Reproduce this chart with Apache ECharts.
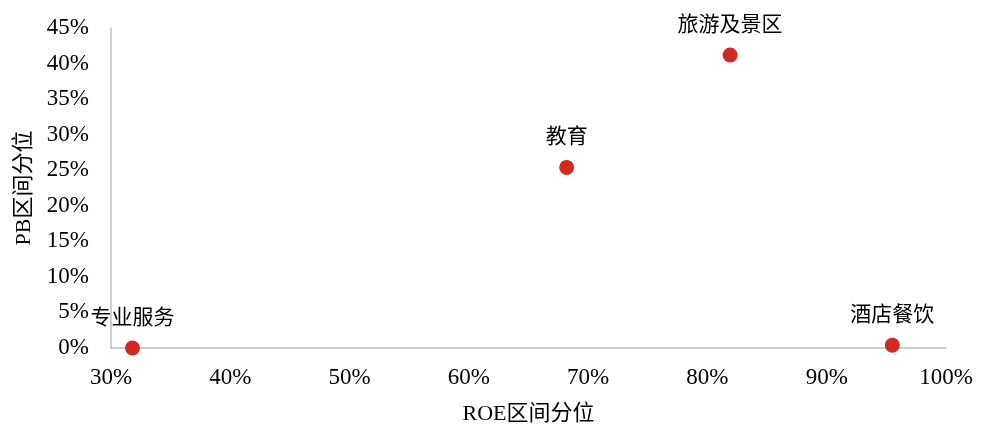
<!DOCTYPE html>
<html>
<head>
<meta charset="utf-8">
<script src="https://cdn.jsdelivr.net/npm/echarts@6/dist/echarts.min.js"></script>
<style>html,body{margin:0;padding:0;background:#fff;}#c{width:984px;height:430px;}</style>
</head>
<body>
<div id="c"></div>
<script>
var names = ['专业服务', '教育', '旅游及景区', '酒店餐饮'];
var roePct = [31.8, 68.2, 81.9, 95.5];
var pbPct = [0.0, 25.4, 41.2, 0.4];
var xTicks = [30, 40, 50, 60, 70, 80, 90, 100];
var yTicks = [0, 5, 10, 15, 20, 25, 30, 35, 40, 45];

var fontFam = "'Liberation Serif', 'Times New Roman', 'Noto Sans CJK SC', serif";
var data = names.map(function (n, i) { return { name: n, value: [roePct[i], pbPct[i]] }; });

var chart = echarts.init(document.getElementById('c'), null, { renderer: 'canvas' });
chart.setOption({
  animation: false,
  backgroundColor: '#ffffff',
  grid: { left: 111, right: 38, top: 28, bottom: 78 },
  xAxis: {
    type: 'value',
    min: xTicks[0], max: xTicks[xTicks.length - 1], interval: 10,
    name: 'ROE区间分位', nameLocation: 'middle', nameGap: 55,
    nameTextStyle: { fontFamily: fontFam, fontSize: 22, color: '#000' },
    axisLine: { show: true, lineStyle: { color: '#bfbfbf', width: 1.5 } },
    axisTick: { show: false },
    splitLine: { show: false },
    axisLabel: { formatter: '{value}%', fontFamily: fontFam, fontSize: 23, color: '#000', margin: 18 }
  },
  yAxis: {
    type: 'value',
    min: yTicks[0], max: yTicks[yTicks.length - 1], interval: 5,
    name: 'PB区间分位', nameLocation: 'middle', nameGap: 76, nameRotate: 90,
    nameTextStyle: { fontFamily: fontFam, fontSize: 22, color: '#000' },
    axisLine: { show: true, onZero: false, lineStyle: { color: '#bfbfbf', width: 1.5 } },
    axisTick: { show: false },
    splitLine: { show: false },
    axisLabel: { formatter: '{value}%', fontFamily: fontFam, fontSize: 23, color: '#000', margin: 22 }
  },
  series: [{
    type: 'scatter',
    data: data,
    symbol: 'circle',
    symbolSize: 15,
    itemStyle: { color: '#d22a22', opacity: 1 },
    label: {
      show: true, position: 'top', distance: 14,
      formatter: '{b}',
      fontFamily: "'Noto Sans CJK SC', sans-serif", fontSize: 21, color: '#000'
    }
  }]
});
</script>
</body>
</html>
